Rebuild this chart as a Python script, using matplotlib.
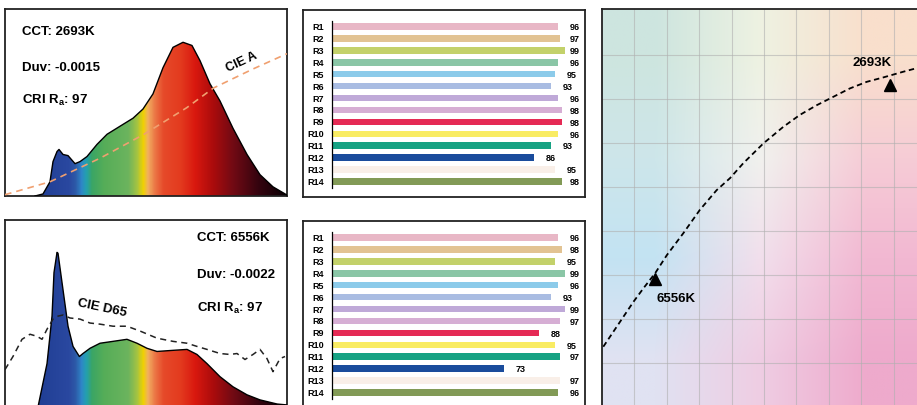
import numpy as np
import matplotlib
matplotlib.use("Agg")
import matplotlib.pyplot as plt
from matplotlib.colors import LinearSegmentedColormap, Normalize, to_rgb

plt.rcParams["font.family"] = ["Liberation Sans", "DejaVu Sans"]
plt.rcParams["font.weight"] = "bold"
plt.rcParams["mathtext.fontset"] = "custom"
plt.rcParams["mathtext.rm"] = "Liberation Sans:bold"
plt.rcParams["mathtext.it"] = "Liberation Sans:bold"

# ---- data ----
# warm white spectrum (relative power vs wavelength, nm)
warm_wl = [422.6, 433.9, 443.8, 448.1, 453.8, 456.6, 462.3, 469.4, 479.3, 486.4, 496.3, 510.5,
           524.7, 543.1, 561.6, 575.7, 589.9, 604.1, 618.3, 632.5, 645.2, 656.6, 670.8, 685.0,
           703.4, 723.3, 741.7, 760.1, 780.0]
warm_rel = [0.0, 0.011, 0.076, 0.184, 0.238, 0.249, 0.222, 0.216, 0.173, 0.184, 0.211, 0.276,
            0.330, 0.373, 0.416, 0.465, 0.546, 0.686, 0.795, 0.822, 0.805, 0.724, 0.600, 0.508,
            0.362, 0.222, 0.114, 0.049, 0.005]
cie_a_wl = [380, 443.8, 514.8, 576.2, 637.7, 675.5, 732.2, 780]
cie_a_rel = [0.007, 0.076, 0.202, 0.328, 0.472, 0.577, 0.680, 0.761]

# cool white spectrum
cool_wl = [426.8, 439.6, 446.7, 449.5, 453.8, 455.2, 460.9, 469.4, 476.5, 485.5, 490.6, 500.6,
           514.8, 533.2, 553.0, 567.2, 581.4, 595.6, 618.3, 638.2, 652.3, 666.5, 685.0, 703.4,
           723.3, 741.7, 765.8, 780.0]
cool_rel = [0.0, 0.232, 0.486, 0.719, 0.827, 0.822, 0.665, 0.432, 0.324, 0.270, 0.286, 0.314,
            0.341, 0.351, 0.362, 0.341, 0.314, 0.297, 0.303, 0.308, 0.281, 0.232, 0.162, 0.108,
            0.065, 0.038, 0.016, 0.011]
d65_wl = [380, 391.3, 404.1, 415.5, 425.4, 432.5, 439.6, 448.1, 455.2, 462.3, 472.2, 486.4,
          500.6, 514.8, 533.2, 553.0, 572.3, 595.6, 618.3, 638.2, 652.3, 666.5, 685.0, 699.1,
          709.1, 720.4, 731.8, 741.7, 751.6, 760.1, 770.1, 777.2]
d65_rel = [0.200, 0.270, 0.362, 0.389, 0.378, 0.362, 0.416, 0.470, 0.486, 0.492, 0.476, 0.470,
           0.449, 0.443, 0.432, 0.432, 0.405, 0.368, 0.351, 0.341, 0.324, 0.308, 0.286, 0.281,
           0.286, 0.254, 0.281, 0.308, 0.259, 0.189, 0.259, 0.270]

r_labels = ["R1", "R2", "R3", "R4", "R5", "R6", "R7", "R8", "R9", "R10", "R11", "R12", "R13", "R14"]
r_warm = [96, 97, 99, 96, 95, 93, 96, 98, 98, 96, 93, 86, 95, 98]
r_cool = [96, 98, 95, 99, 96, 93, 99, 97, 88, 95, 97, 73, 97, 96]
r_colors = ["#e8b7c6", "#e2c393", "#c3d16a", "#8ac6a6", "#8ccbea", "#a9bce2", "#bfa9d8",
            "#d6aed4", "#e52a55", "#f9ec63", "#16a283", "#1a4c9c", "#f9efe8", "#829a56"]

# planckian locus segment on the chromaticity grid
locus_x = [0.04, 0.35, 0.66, 0.97, 1.28, 1.64, 2.00, 2.51, 3.02, 3.54, 3.95, 4.36, 4.98,
           5.60, 6.11, 6.63, 7.14, 7.65, 8.17, 8.68, 9.30, 9.71]
locus_y = [1.37, 1.71, 2.05, 2.39, 2.70, 3.04, 3.45, 3.95, 4.48, 4.93, 5.20, 5.54, 5.99,
           6.37, 6.64, 6.86, 7.05, 7.24, 7.39, 7.49, 7.62, 7.70]
pts_x = [1.64, 8.89]
pts_y = [2.91, 7.32]
pts_lab = ["6556K", "2693K"]

# ---- figure ----
W, H = 917, 405
fig = plt.figure(figsize=(W / 100, H / 100), dpi=100)


def px(x0, y0, x1, y1):
    return [x0 / W, 1 - y1 / H, (x1 - x0) / W, (y1 - y0) / H]


stops = [(380, "#1a2a80"), (430, "#213f95"), (470, "#2a48a0"), (480, "#2d5aa8"), (488, "#2f86c8"),
         (495, "#23a0b0"), (503, "#3aa565"), (520, "#55ad58"), (555, "#6cb45e"), (568, "#a8c440"),
         (576, "#f0d200"), (583, "#f2b060"), (592, "#ec7a48"), (605, "#e64a2a"), (630, "#e33a1e"),
         (650, "#d9180f"), (675, "#ac0c0c"), (705, "#700a14"), (740, "#35040f"), (780, "#0a0005")]
spec_cmap = LinearSegmentedColormap.from_list("spec", [((w - 380) / 400, c) for w, c in stops])


def spectrum_panel(rect, wl, rel, ref_wl, ref_rel, ref_style, hide_bottom):
    ax = fig.add_axes(rect)
    grad = np.linspace(380, 780, 800).reshape(1, -1)
    im = ax.imshow(grad, extent=(380, 780, 0, 1), aspect="auto", cmap=spec_cmap,
                   norm=Normalize(380, 780), origin="lower", zorder=1)
    poly = ax.fill_between(wl, rel, color="none", lw=0)
    im.set_clip_path(poly.get_paths()[0], transform=ax.transData)
    ax.plot(wl, rel, color="black", lw=1.0, zorder=3)
    ax.plot(ref_wl, ref_rel, zorder=4, **ref_style)
    ax.set_xlim(380, 780)
    ax.set_ylim(0, 1)
    ax.set_xticks([])
    ax.set_yticks([])
    for s in ax.spines.values():
        s.set_linewidth(1.3)
        s.set_color("#222222")
    if hide_bottom:
        ax.spines["bottom"].set_visible(False)
    return ax


ax1 = spectrum_panel(px(5, 9, 287, 196), warm_wl, warm_rel, cie_a_wl, cie_a_rel,
                     dict(color="#f0a070", lw=1.2, ls=(0, (4, 3))), False)
ax1.text(0.06, 0.877, "CCT: 2693K", transform=ax1.transAxes, fontsize=9.5, va="center")
ax1.text(0.06, 0.684, "Duv: -0.0015", transform=ax1.transAxes, fontsize=9.5, va="center")
ax1.text(0.06, 0.513, r"CRI R$_\mathrm{a}$: 97", transform=ax1.transAxes, fontsize=9.5, va="center")
ax1.text(0.84, 0.717, "CIE A", transform=ax1.transAxes, fontsize=9, rotation=25,
         ha="center", va="center")

ax2 = spectrum_panel(px(5, 220, 287, 407), cool_wl, cool_rel, d65_wl, d65_rel,
                     dict(color="#222222", lw=1.1, ls=(0, (4, 3))), True)
ax2.text(0.681, 0.904, "CCT: 6556K", transform=ax2.transAxes, fontsize=9.5, va="center")
ax2.text(0.681, 0.706, "Duv: -0.0022", transform=ax2.transAxes, fontsize=9.5, va="center")
ax2.text(0.681, 0.529, r"CRI R$_\mathrm{a}$: 97", transform=ax2.transAxes, fontsize=9.5, va="center")
ax2.text(0.344, 0.53, "CIE D65", transform=ax2.transAxes, fontsize=9.5, rotation=-12,
         ha="center", va="center")


def cri_panel(top, values, hide_bottom):
    frame = fig.add_axes(px(303, top, 585, top + 187))
    frame.set_xticks([])
    frame.set_yticks([])
    for s in frame.spines.values():
        s.set_linewidth(1.3)
        s.set_color("#222222")
    if hide_bottom:
        frame.spines["bottom"].set_visible(False)
    ax = fig.add_axes(px(332, top + 10.5, 567, top + 177.5))
    ax.patch.set_alpha(0)
    y = np.arange(len(r_labels))
    ax.barh(y, values, height=0.55, color=r_colors)
    for yi, v in zip(y, values):
        ax.text(min(v + 5, 101), yi + 0.1, str(v), fontsize=6.5, va="center", ha="left")
    ax.set_xlim(0, 100)
    ax.set_ylim(len(r_labels) - 0.5, -0.5)
    ax.set_yticks(y)
    ax.set_yticklabels(r_labels, fontsize=6.5, fontweight="bold")
    ax.tick_params(axis="y", length=0, pad=6)
    ax.set_xticks([])
    for side in ["top", "right", "bottom"]:
        ax.spines[side].set_visible(False)
    ax.spines["left"].set_linewidth(0.9)
    return ax


cri_panel(10, r_warm, False)
cri_panel(221, r_cool, True)

# ---- chromaticity panel ----
ax3 = fig.add_axes(px(602, 9, 920, 408))
bg = [["#cde5df", "#eef2e2", "#f9dfcc"],
      ["#cde6ea", "#f1f1ee", "#f6ccd6"],
      ["#c3e3f3", "#f2dfec", "#f2b8d2"],
      ["#e0e2f2", "#efcde3", "#eeaacc"]]
bg_rgb = np.array([[to_rgb(c) for c in row] for row in bg])
x0, x1 = 0, (920 - 602) / 32.4
y0, y1 = (407 - 408) / 44, (407 - 9) / 44
ax3.imshow(bg_rgb, extent=(x0, x1, y0, y1), aspect="auto", interpolation="bilinear",
           origin="upper", zorder=0)
ax3.set_xlim(x0, x1)
ax3.set_ylim(y0, y1)
ax3.set_xticks(range(1, 10))
ax3.set_yticks(range(1, 9))
ax3.grid(color="#b0b0b0", lw=0.8, alpha=0.6)
ax3.tick_params(length=0, labelbottom=False, labelleft=False)
ax3.plot(locus_x, locus_y, color="black", lw=1.3, ls=(0, (3, 2)), zorder=3)
ax3.plot(pts_x, pts_y, ls="none", marker="^", color="black", markersize=9, zorder=4)
ax3.text(pts_x[0] + 0.03, pts_y[0] - 0.46, pts_lab[0], fontsize=9.5, ha="left", va="center")
ax3.text(pts_x[1] - 0.56, pts_y[1] + 0.5, pts_lab[1], fontsize=9.5, ha="center", va="center")
for side in ["right", "bottom"]:
    ax3.spines[side].set_visible(False)
for side in ["left", "top"]:
    ax3.spines[side].set_linewidth(1.3)
    ax3.spines[side].set_color("#222222")

fig.savefig("out.png", dpi=100)
